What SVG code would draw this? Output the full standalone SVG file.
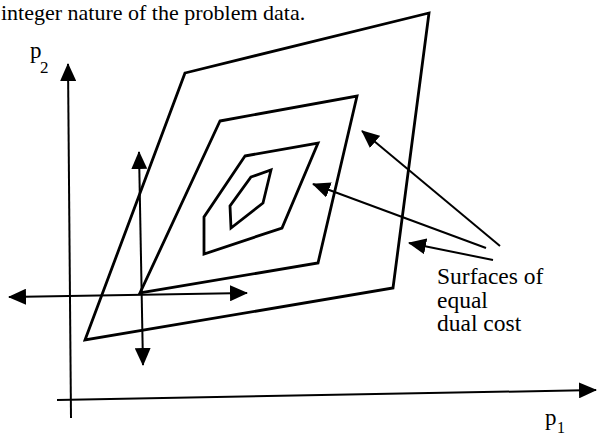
<svg xmlns="http://www.w3.org/2000/svg" width="598" height="437" viewBox="0 0 598 437">
<style>
.t{font-family:"Liberation Serif","Times New Roman",serif;fill:#000}
.c{fill:none;stroke:#000;stroke-width:2.8;stroke-linejoin:miter}
.a{fill:none;stroke:#000;stroke-width:2}
</style>
<defs>
<marker id="ah" viewBox="0 0 18 16" markerWidth="18" markerHeight="16" refX="17" refY="8" orient="auto-start-reverse" markerUnits="userSpaceOnUse">
<path d="M0,0 L18,8 L0,16 z" fill="#000"/>
</marker>
</defs>
<rect width="598" height="437" fill="#fff"/>
<text class="t" x="1" y="20" font-size="22">integer nature of the problem data.</text>
<g id="axes">
<line class="a" x1="71" y1="418" x2="68" y2="64" marker-end="url(#ah)"/>
<line class="a" x1="57" y1="400" x2="596" y2="390" marker-end="url(#ah)"/>
<text class="t" x="30" y="58" font-size="23">p</text>
<text class="t" x="40" y="73" font-size="17">2</text>
<text class="t" x="545" y="425" font-size="23">p</text>
<text class="t" x="557" y="433" font-size="16">1</text>
</g>
<g id="surface1"><polygon class="c" points="185,73 429,13 393,288 85,340"/></g>
<g id="surface2"><polygon class="c" points="220,121 357,96 318,263 140,293"/></g>
<g id="surface3"><polygon class="c" points="245,156 318,143 282,228 204,254 204,217"/></g>
<g id="surface4"><polygon class="c" points="251,177 271,170 263,203 231,228 230,206"/></g>
<g id="label">
<text class="t" x="437" y="284" font-size="23.5">Surfaces of</text>
<text class="t" x="437" y="307.5" font-size="23.5">equal</text>
<text class="t" x="437" y="331" font-size="23.5">dual cost</text>
</g>
<g id="connectors">
<line class="a" x1="9" y1="297" x2="247" y2="293" marker-start="url(#ah)" marker-end="url(#ah)"/>
<line class="a" x1="139" y1="152" x2="143" y2="365" marker-start="url(#ah)" marker-end="url(#ah)"/>
<line class="a" x1="500" y1="246" x2="362" y2="131" stroke-width="2.4" marker-end="url(#ah)"/>
<line class="a" x1="486" y1="248" x2="313" y2="184" stroke-width="2.4" marker-end="url(#ah)"/>
<line class="a" x1="493" y1="260" x2="409" y2="243" stroke-width="2.4" marker-end="url(#ah)"/>
</g>
</svg>
